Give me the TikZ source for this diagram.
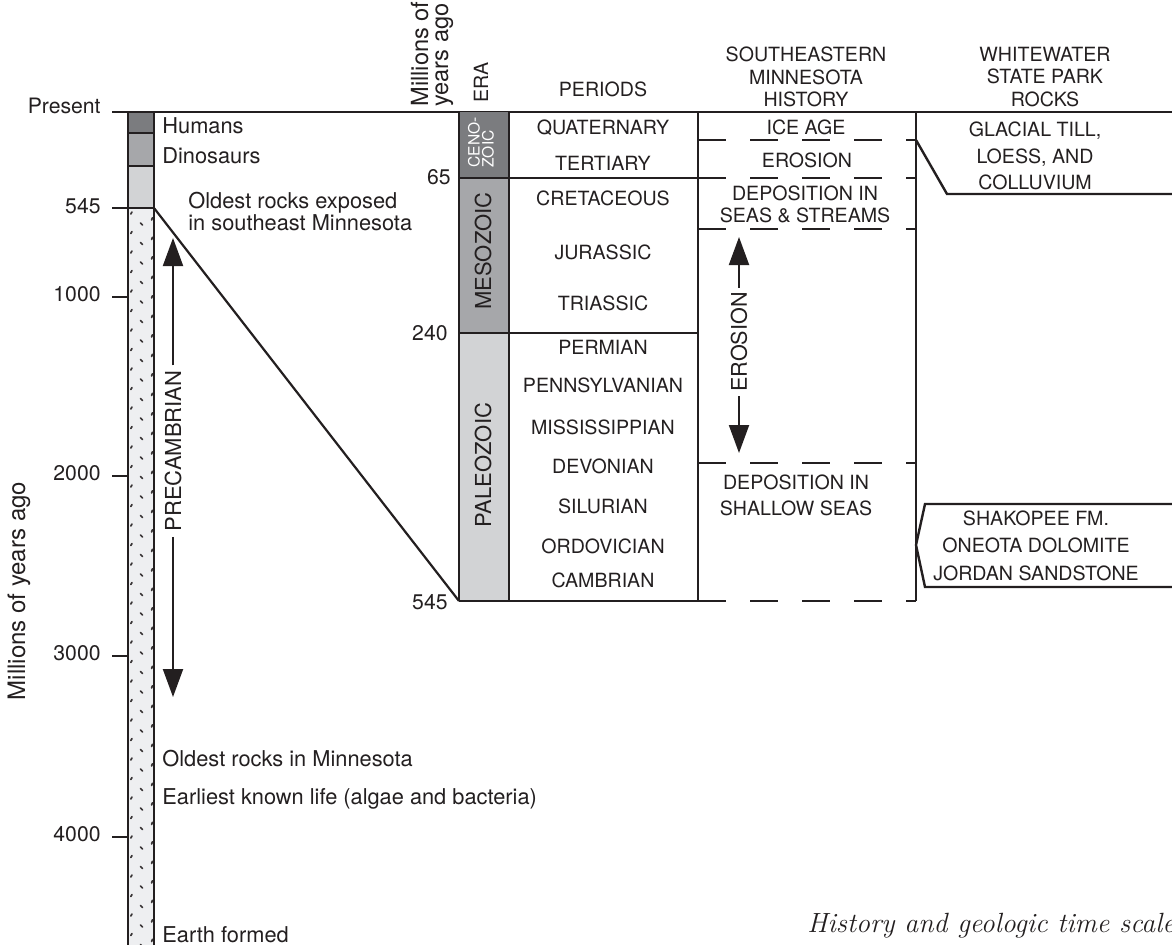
\documentclass[tikz,border=0pt]{standalone}
\usepackage{fontspec}
\newfontfamily\hv{TeX Gyre Heros}
\usetikzlibrary{arrows.meta}
\definecolor{gdark}{HTML}{7B7C7F}
\definecolor{gmid}{HTML}{A6A7AA}
\definecolor{glight}{HTML}{D2D3D5}
\definecolor{gstip}{HTML}{EEEFF1}
\definecolor{ink}{HTML}{231F20}
\begin{document}
\begin{tikzpicture}[x=0.5pt,y=-0.5pt,
  grid/.style={draw=ink,line width=1.2pt},
  dsh/.style={draw=ink,line width=1.2pt,dash pattern=on 14pt off 12pt},
  arr/.style={draw=ink,line width=1pt,-{Triangle[width=10pt,length=14pt]}},
  stip/.style={draw=ink!90,line width=0.85pt,line cap=round},
  lab/.style={font=\fontsize{10.9}{11}\selectfont\hv,text=ink,inner sep=0pt,anchor=base west},
  num/.style={font=\fontsize{10.6}{11}\selectfont\hv,text=ink,inner sep=0pt,anchor=base east},
  caps/.style={font=\fontsize{9.8}{11.25}\selectfont\hv,text=ink,inner sep=0pt,align=center},
  per/.style={caps},
  era/.style={font=\fontsize{11}{12}\selectfont\hv,text=ink,inner sep=0pt,rotate=90},
  vlab/.style={font=\fontsize{11}{12}\selectfont\hv,text=ink,inner xsep=2.5pt,inner ysep=0pt,rotate=90,fill=white},
]
\useasboundingbox (0,0) rectangle (1172,944);

% ---------- left time column ----------
\fill[gdark] (128,112) rectangle (154,133);
\fill[gmid] (128,133) rectangle (154,166);
\fill[glight] (128,166) rectangle (154,208);
\fill[gstip] (128,208) rectangle (154,950);
\foreach \k in {0,...,38}{
  \pgfmathsetmacro\yy{214+19.5*\k}
  \draw[stip] (130.8,\yy) -- (132,\yy-2);
  \draw[stip] (140.5,\yy+9) -- (142.5,\yy+11);
  \draw[stip] (151.6,\yy+6) -- (152.4,\yy+3.8);
}
\draw[grid] (128,112) -- (128,950);
\draw[grid] (154,112) -- (154,950);
\draw[grid] (128,133) -- (154,133);
\draw[grid] (128,166) -- (154,166);
\draw[grid] (128,208) -- (154,208);

% top line and ticks
\draw[grid] (112,112) -- (1172,112);
\foreach \t in {208,297,476,656,837}{ \draw[grid] (112,\t) -- (128,\t); }

\node[num] (tPresent) at (101,113) {Present};
\node[num] (t545) at (101,213) {545};
\node[num] (t1000) at (101,301.5) {1000};
\node[num] (t2000) at (101,480.5) {2000};
\node[num] (t3000) at (101,660.5) {3000};
\node[num] (t4000) at (101,841.5) {4000};

\node[font=\fontsize{12}{13}\selectfont\hv,text=ink,rotate=90,inner sep=0pt] (yaxis) at (19,591) {Millions of years ago};

\node[lab] (humans) at (162,133) {Humans};
\node[lab] (dinos) at (162,163) {Dinosaurs};
\node[lab,align=left,anchor=north west] (oldexp) at (188,192) {Oldest rocks exposed\\in southeast Minnesota};
\node[lab] (oldmn) at (162,766) {Oldest rocks in Minnesota};
\node[lab] (life) at (162,804) {Earliest known life (algae and bacteria)};
\node[lab] (earth) at (162,942) {Earth formed};

% precambrian arrow
\node[vlab] (pre) at (173,451) {PRECAMBRIAN};
\coordinate (preT) at (173,238);
\coordinate (preB) at (173,697);
\draw[arr] (pre.east) -- (preT);
\draw[arr] (pre.west) -- (preB);

% diagonal
\coordinate (dA) at (154,208);
\coordinate (dB) at (459,601);
\draw[draw=ink,line width=1.1pt] (dA) -- (dB);

% ---------- era / periods ----------
\fill[gdark] (459,112) rectangle (509,178);
\fill[gmid] (459,178) rectangle (509,333);
\fill[glight] (459,333) rectangle (509,601);
\draw[grid] (459,112) -- (459,601);
\draw[grid] (509,112) -- (509,601);
\draw[grid] (698,112) -- (698,601);
\draw[grid] (916,112) -- (916,601);
\draw[grid] (459,178) -- (698,178);
\draw[grid] (459,333) -- (698,333);
\draw[grid] (459,601) -- (698,601);
\foreach \d in {140,178,229,463,601}{ \draw[dsh] (698,\d) -- (916,\d); }

\node[num,anchor=east] (n65) at (451,177) {65};
\node[num,anchor=east] (n240) at (448,333) {240};
\node[num,anchor=east] (n545) at (448,602) {545};

\node[font=\fontsize{11.8}{10}\selectfont\hv,text=ink,rotate=90,inner sep=0pt,align=left,anchor=west] (hmy) at (432,107) {Millions of\\years ago};
\node[caps,rotate=90,anchor=west] (hera) at (481,103) {ERA};
\node[caps] (hper) at (603,89) {PERIODS};
\node[caps] (hsem) at (806,77) {SOUTHEASTERN\\MINNESOTA\\HISTORY};
\node[caps] (hww) at (1045,77) {WHITEWATER\\STATE PARK\\ROCKS};

\node[font=\fontsize{7.8}{7}\selectfont\hv,text=white,rotate=90,inner sep=0pt,align=left,anchor=west] (ceno) at (481,168) {CENO-\\ZOIC};
\node[era] (meso) at (483,251) {MESOZOIC};
\node[era] (paleo) at (483,465) {PALEOZOIC};

\node[per] (p1) at (603,128) {QUATERNARY};
\node[per] (p2) at (603,163) {TERTIARY};
\node[per] (p3) at (603,198) {CRETACEOUS};
\node[per] (p4) at (603,252) {JURASSIC};
\node[per] (p5) at (603,303) {TRIASSIC};
\node[per] (p6) at (603,347) {PERMIAN};
\node[per] (p7) at (603,385) {PENNSYLVANIAN};
\node[per] (p8) at (603,427) {MISSISSIPPIAN};
\node[per] (p9) at (603,466) {DEVONIAN};
\node[per] (p10) at (603,506) {SILURIAN};
\node[per] (p11) at (603,546) {ORDOVICIAN};
\node[per] (p12) at (603,580) {CAMBRIAN};

% ---------- history column ----------
\node[caps] (ice) at (806,127) {ICE AGE};
\node[caps] (ero1) at (807,160) {EROSION};
\node[caps,font=\fontsize{9.8}{11}\selectfont\hv] (dep1) at (805,204) {DEPOSITION IN\\SEAS \& STREAMS};
\node[caps,font=\fontsize{9.8}{13}\selectfont\hv] (dep2) at (796,495) {DEPOSITION IN\\SHALLOW SEAS};

\node[vlab,font=\fontsize{10.8}{12}\selectfont\hv,inner xsep=2pt] (ero2) at (739,342) {EROSION};
\coordinate (eroT) at (739,237);
\coordinate (eroB) at (739,453);
\draw[arr] (ero2.east) -- (eroT);
\draw[arr] (ero2.west) -- (eroB);

% ---------- whitewater rocks ----------
\coordinate (g1) at (916,140);
\coordinate (g2) at (947,194);
\coordinate (g3) at (1172,194);
\draw[grid] (g1) -- (g2) -- (g3);
\node[caps,font=\fontsize{9.8}{13.25}\selectfont\hv] (glac) at (1035,156) {GLACIAL TILL,\\LOESS, AND\\COLLUVIUM};

\coordinate (s1) at (1172,504);
\coordinate (s2) at (925,504);
\coordinate (s3) at (916,545);
\coordinate (s4) at (925,587);
\coordinate (s5) at (1172,587);
\draw[grid] (s1) -- (s2) -- (s3) -- (s4) -- (s5);
\node[caps,font=\fontsize{9.8}{13.75}\selectfont\hv] (shak) at (1036,545.5) {SHAKOPEE FM.\\ONEOTA DOLOMITE\\JORDAN SANDSTONE};

% caption
\node[font=\fontsize{13.9}{16}\selectfont\itshape,text=ink,inner sep=0pt,anchor=base west] (caption) at (807,932) {History and geologic time scale};
\end{tikzpicture}
\end{document}
